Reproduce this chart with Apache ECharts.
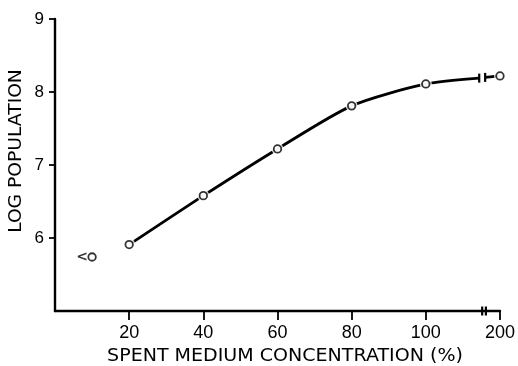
<!DOCTYPE html>
<html><head><meta charset="utf-8">
<script src="https://cdn.jsdelivr.net/npm/echarts@6/dist/echarts.min.js"></script>
<style>html,body{margin:0;padding:0;background:#fff}#c{width:518px;height:366px}</style>
</head><body><div id="c"></div>
<script>
// ---- data ----
const concentration = [10, 20, 40, 60, 80, 100, 200];
const logPopulation = [5.74, 5.91, 6.58, 7.22, 7.81, 8.11, 8.22];
const xTickValues = [20, 40, 60, 80, 100, 200];
const yTickValues = [6, 7, 8, 9];
// drawn curve (through the measured points up to the axis break)
const curveX = [20, 40, 60, 80, 100, 172];
const curveY = [5.91, 6.58, 7.22, 7.81, 8.11, 8.19];
const tailX = [180, 200];
const tailY = [8.20, 8.22];
const axisBreakX = [176, 181];
const curveBreakX = [172, 180];
const curveBreakY = [8.19, 8.20];

// broken x axis: beyond 100 the scale is compressed
const BREAK_AT = 100, COMPRESS = 0.2;
const toAxis = v => v <= BREAK_AT ? v : BREAK_AT + (v - BREAK_AT) * COMPRESS;
const fromAxis = v => v <= BREAK_AT ? v : BREAK_AT + (v - BREAK_AT) / COMPRESS;

const pts = concentration.map((c, i) => [toAxis(c), logPopulation[i]]);
const markerData = pts.map((p, i) => i === 0 ? {
  value: p,
  label: {show: true, formatter: '<', position: 'left', distance: 1, offset: [1.5, 0],
          fontSize: 14, fontWeight: 'bold', color: '#000', fontFamily: 'DejaVu Sans'}
} : {value: p});

const breakData = axisBreakX.map(x => [toAxis(x), 5])
  .concat(curveBreakX.map((x, i) => [toAxis(x), curveBreakY[i]]));

const chart = echarts.init(document.getElementById('c'), null, {renderer: 'canvas'});
chart.setOption({
  animation: false,
  backgroundColor: '#fff',
  grid: {left: 55, top: 19, width: 449, height: 292, containLabel: false},
  xAxis: {
    type: 'value', min: 0, max: toAxis(200),
    axisLine: {show: true, lineStyle: {color: '#000', width: 2.4}},
    axisTick: {show: true, customValues: xTickValues.map(toAxis), length: 9, lineStyle: {color: '#000', width: 1.8}},
    axisLabel: {customValues: xTickValues.map(toAxis), formatter: v => String(Math.round(fromAxis(v))),
                fontSize: 18, fontFamily: 'Liberation Sans', color: '#000', margin: 13},
    splitLine: {show: false}
  },
  yAxis: {
    type: 'value', min: 5, max: 9, interval: 1,
    axisLine: {show: true, lineStyle: {color: '#000', width: 2.4}},
    axisTick: {show: true, customValues: yTickValues, length: 6, lineStyle: {color: '#000', width: 1.8}},
    axisLabel: {customValues: yTickValues, fontSize: 17, fontFamily: 'Liberation Sans', color: '#000', margin: 11},
    splitLine: {show: false}
  },
  graphic: [
    {type: 'text', x: 17, y: 151, rotation: Math.PI / 2, scaleX: 1.1,
     style: {text: 'LOG POPULATION', font: '17px "DejaVu Sans"', fill: '#000', textAlign: 'center', textVerticalAlign: 'middle'}},
    {type: 'text', x: 285, y: 357, scaleX: 1.12,
     style: {text: 'SPENT MEDIUM CONCENTRATION (%)', font: '17px "DejaVu Sans"', fill: '#000', textAlign: 'center', textVerticalAlign: 'middle'}}
  ],
  series: [
    {type: 'line', data: curveX.map((x, i) => [toAxis(x), curveY[i]]), smooth: 0.25, symbol: 'none',
     lineStyle: {color: '#000', width: 2.8}, z: 2, silent: true},
    {type: 'line', data: tailX.map((x, i) => [toAxis(x), tailY[i]]), symbol: 'none',
     lineStyle: {color: '#000', width: 2.8}, z: 2, silent: true},
    {type: 'custom', data: breakData, z: 3, silent: true,
     renderItem: (params, api) => {
       const p = api.coord([api.value(0), api.value(1)]);
       return {type: 'line', shape: {x1: p[0], y1: p[1] - 4.5, x2: p[0], y2: p[1] + 4.5},
               style: {stroke: '#000', lineWidth: 2.2}};
     }},
    {type: 'scatter', data: pts, symbol: 'circle', symbolSize: 12, itemStyle: {color: '#fff'}, z: 4, silent: true},
    {type: 'scatter', data: markerData, symbol: 'circle', symbolSize: 7.5,
     itemStyle: {color: '#fff', borderColor: '#000', borderWidth: 1.8}, z: 5, silent: true}
  ]
});
</script></body></html>
